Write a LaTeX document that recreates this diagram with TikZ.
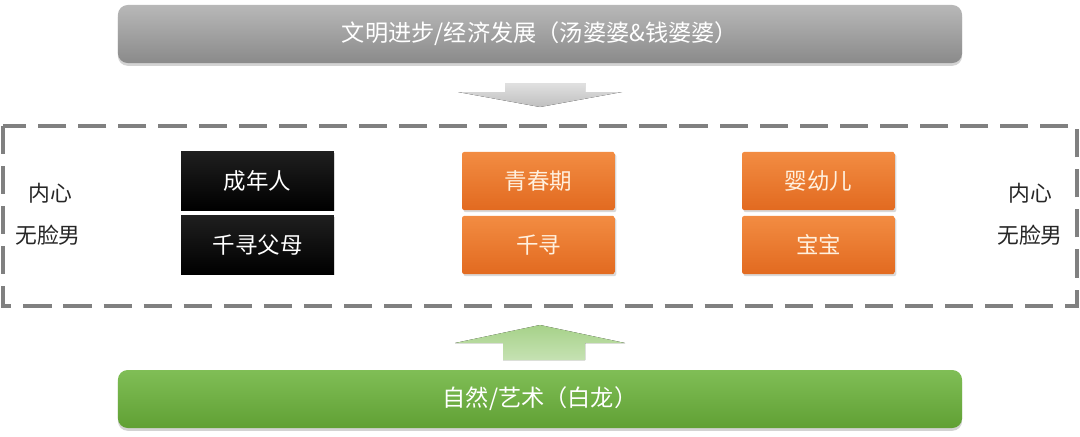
\documentclass[tikz,border=0pt]{standalone}
\usepackage{fontspec}
\newfontfamily\cjk{Noto Sans CJK SC}
\usetikzlibrary{shadows}
\definecolor{bartop}{RGB}{184,184,184}
\definecolor{barbottom}{RGB}{138,138,138}
\definecolor{greentop}{RGB}{128,190,86}
\definecolor{greenbottom}{RGB}{96,160,52}
\definecolor{orangetop}{RGB}{242,140,66}
\definecolor{orangebottom}{RGB}{226,106,32}
\definecolor{dashgray}{RGB}{128,128,128}
\definecolor{creamtext}{RGB}{255,240,222}

\tikzset{
  bar/.style={rounded corners=7pt, minimum width=21.1cm, minimum height=1.45cm,
    text=white, font=\cjk\fontsize{16.5}{19}\selectfont,
    drop shadow={shadow xshift=0pt, shadow yshift=-2pt, opacity=.35}},
  blackbox/.style={minimum width=3.82cm, minimum height=1.45cm, text=white,
    top color=black!88, bottom color=black, font=\cjk\fontsize{16}{19}\selectfont,
    drop shadow={shadow xshift=1pt, shadow yshift=-1pt, opacity=.3}},
  orangebox/.style={rounded corners=1.5pt, minimum width=3.82cm, minimum height=1.45cm,
    text=creamtext, top color=orangetop, bottom color=orangebottom,
    font=\cjk\fontsize{16}{19}\selectfont,
    drop shadow={shadow xshift=1pt, shadow yshift=-1.5pt, opacity=.3}},
  sidelabel/.style={font=\cjk\fontsize{15.5}{19}\selectfont, text=black!85}
}

\begin{document}
\begin{tikzpicture}[x=0.025cm, y=-0.025cm]
    \useasboundingbox (0,0) rectangle (1080,436);

    % Barra superior
    \node[bar, top color=bartop, bottom color=barbottom] (civil) at (540,34)
        {文明进步/经济发展（汤婆婆\&钱婆婆）};

    % Seta para baixo
    \fill[top color=black!12, bottom color=black!25]
        (505,83) -- (585,83) -- (585,92) -- (622,92) -- (540,107)
        -- (458,92) -- (505,92) -- cycle;

    % Caixa tracejada
    \draw[dashgray, line width=2.2pt, dash pattern=on 20pt off 8.5pt]
        (3,126) rectangle (1077,306);

    % Rótulos laterais
    \node[sidelabel] (innerL) at (50,193) {内心};
    \node[sidelabel] (faceL) at (48,235) {无脸男};
    \node[sidelabel] (innerR) at (1030,193) {内心};
    \node[sidelabel] (faceR) at (1030,235) {无脸男};

    % Caixas pretas
    \node[blackbox] (adult) at (257.5,181) {成年人};
    \node[blackbox] (parents) at (257.5,245) {千寻父母};

    % Caixas laranja
    \node[orangebox] (youth) at (538.5,181) {青春期};
    \node[orangebox] (chihiro) at (538.5,245) {千寻};
    \node[orangebox] (infant) at (818.5,181) {婴幼儿};
    \node[orangebox] (baby) at (818.5,245) {宝宝};

    % Seta para cima
    \fill[top color=greentop!70, bottom color=greentop!45]
        (540,325) -- (625,343) -- (585,343) -- (585,360) -- (503,360)
        -- (503,343) -- (455,343) -- cycle;

    % Barra inferior
    \node[bar, top color=greentop, bottom color=greenbottom] (nature) at (540,399)
        {自然/艺术（白龙）};
\end{tikzpicture}
\end{document}
